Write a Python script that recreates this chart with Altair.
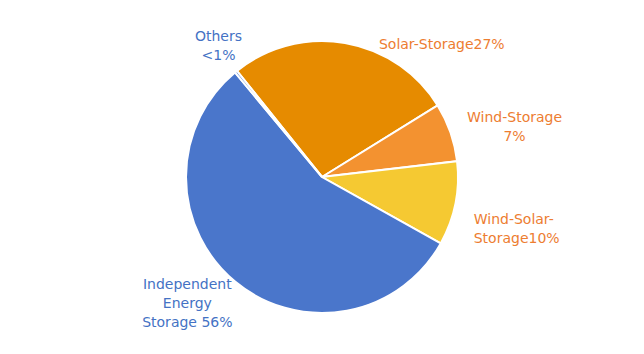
import math
import altair as alt
import pandas as pd

categories = ["Solar-Storage", "Wind-Storage", "Wind-Solar-Storage", "Independent Energy Storage", "Others"]
values = [27, 7, 10, 56, 0.3]
labels = ["Solar-Storage27%", "Wind-Storage\n7%", "Wind-Solar-\nStorage10%", "Independent\nEnergy\nStorage 56%", "Others\n<1%"]
slice_colors = ["#E68B00", "#F39230", "#F5C932", "#4A76CB", "#4A76CB"]
label_colors = ["#ED7D31", "#ED7D31", "#ED7D31", "#4472C4", "#4472C4"]

df = pd.DataFrame({"cat": categories, "value": values, "label": labels, "idx": list(range(len(categories)))})

start = -38.7 * math.pi / 180
theta_scale = alt.Scale(range=[start, start + 2 * math.pi])
FONT = "DejaVu Sans"

base = alt.Chart(df)

pie = base.mark_arc(outerRadius=136, stroke="white", strokeWidth=2).encode(
    theta=alt.Theta("value:Q", stack=True, scale=theta_scale),
    color=alt.Color("cat:N", scale=alt.Scale(domain=categories, range=slice_colors), legend=None),
    order=alt.Order("idx:Q"),
)

# per-label offsets/alignment (styling)
styles = {
    "Solar-Storage": dict(dx=91, dy=36, align="center"),
    "Wind-Storage": dict(dx=32, dy=-3, align="center"),
    "Wind-Solar-Storage": dict(dx=-15, dy=10, align="left"),
    "Independent Energy Storage": dict(dx=-26, dy=-23, align="center"),
    "Others": dict(dx=4, dy=-8, align="center"),
}

layers = [pie]
for cat, col in zip(categories, label_colors):
    st = styles[cat]
    t = base.mark_text(
        radius=170, font=FONT, fontSize=14, color=col, lineBreak="\n",
        baseline="middle", lineHeight=19, **st
    ).encode(
        theta=alt.Theta("value:Q", stack=True, scale=theta_scale),
        order=alt.Order("idx:Q"),
        text=alt.condition(alt.datum.cat == cat, "label:N", alt.value("")),
    )
    layers.append(t)

chart = alt.layer(*layers).properties(
    width=644, height=354,
    autosize=alt.AutoSizeParams(type="none"),
    padding=0,
).configure_view(stroke=None)

chart.save("out.html", embed_options={"renderer": "svg", "actions": False})
